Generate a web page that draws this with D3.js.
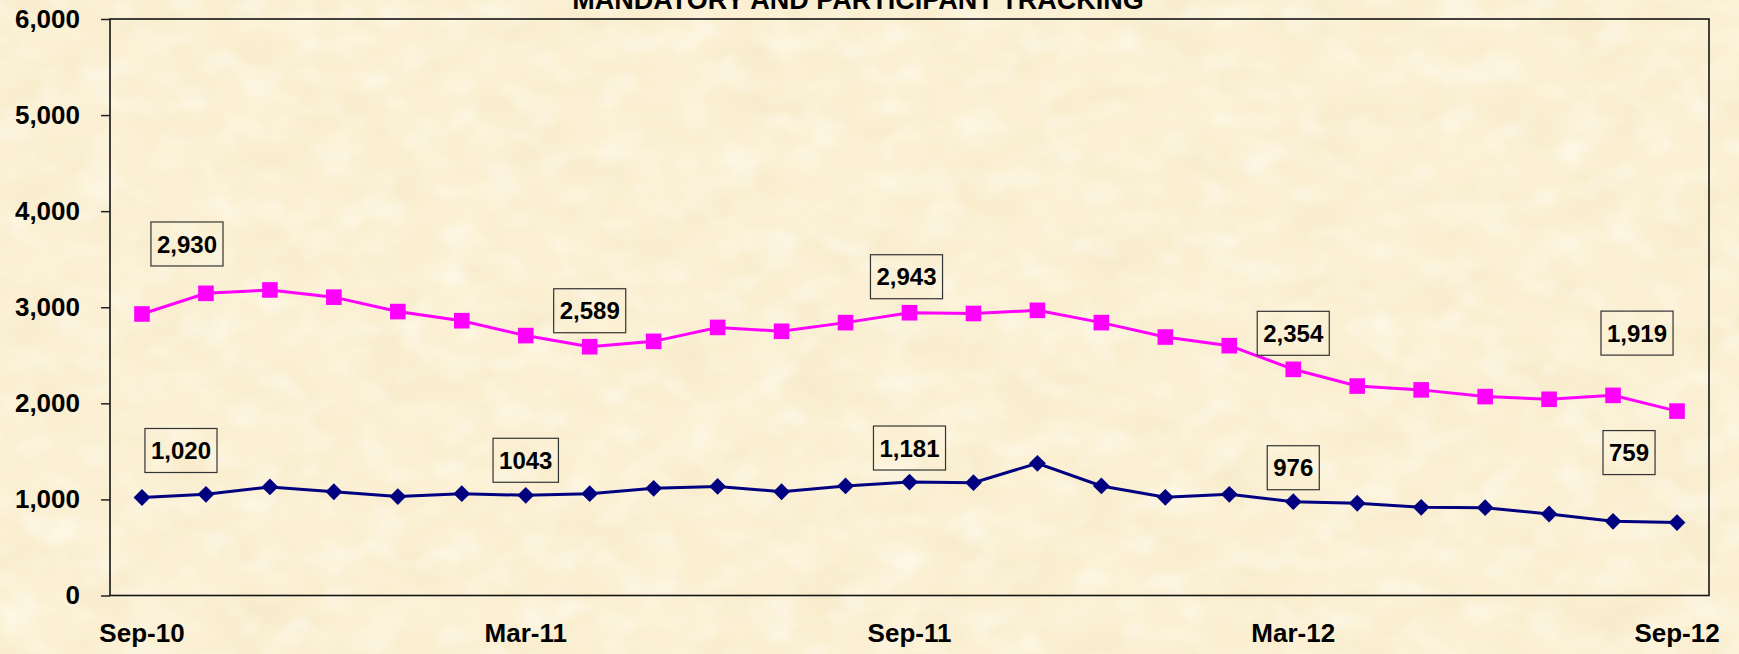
<!DOCTYPE html>
<html>
  <head>
    <meta charset="utf-8">
    <title>Mandatory and Participant Tracking</title>
    <script src="https://d3js.org/d3.v7.min.js"></script>
    <style>
      body { margin: 0; background: #faf0d5; }
      svg { display: block; }
      text { font-family: "Liberation Sans", Arial, sans-serif; font-weight: bold; fill: #000; }
    </style>
  </head>
  <body>
    <svg></svg>
    <script>
      // monthly categories, Sep-10 .. Sep-12
      var months = ["Sep-10", "Oct-10", "Nov-10", "Dec-10", "Jan-11", "Feb-11", "Mar-11",
        "Apr-11", "May-11", "Jun-11", "Jul-11", "Aug-11", "Sep-11", "Oct-11", "Nov-11",
        "Dec-11", "Jan-12", "Feb-12", "Mar-12", "Apr-12", "May-12", "Jun-12", "Jul-12",
        "Aug-12", "Sep-12"];
      var tickMonths = ["Sep-10", "Mar-11", "Sep-11", "Mar-12", "Sep-12"];
      var yTicks = [0, 1000, 2000, 3000, 4000, 5000, 6000];

      // pink series (upper) and navy series (lower)
      var participants = [2930, 3145, 3180, 3105, 2955, 2860, 2705, 2589, 2645, 2790, 2750, 2840,
        2943, 2935, 2968, 2840, 2690, 2600, 2354, 2180, 2140, 2070, 2042, 2083, 1919];
      var mandatory = [1020, 1053, 1130, 1080, 1030, 1060, 1043, 1060, 1115, 1135, 1080, 1140,
        1181, 1174, 1376, 1140, 1022, 1053, 976, 960, 918, 914, 848, 772, 759];

      // call-out labels: [month index, text]
      var participantLabels = [[0, "2,930"], [7, "2,589"], [12, "2,943"], [18, "2,354"], [24, "1,919"]];
      var mandatoryLabels = [[0, "1,020"], [6, "1043"], [12, "1,181"], [18, "976"], [24, "759"]];

      var title = "MANDATORY AND PARTICIPANT TRACKING";

      // box offsets from their point (layout only)
      var participantOffsets = [[45, -70], [0, -36], [-3, -36], [0, -36], [-40, -78]];
      var mandatoryOffsets = [[39, -47], [0, -35], [0, -34], [0, -34], [-48, -70]];

      var W = 1739, H = 654;
      var plot = { left: 110, right: 1709, top: 19, bottom: 595.5 };

      var svg = d3.select("svg").attr("width", W).attr("height", H);

      // parchment texture
      var defs = svg.append("defs");
      var f1 = defs.append("filter").attr("id", "blotch")
        .attr("x", 0).attr("y", 0).attr("width", "100%").attr("height", "100%");
      f1.append("feTurbulence").attr("type", "fractalNoise")
        .attr("baseFrequency", "0.014 0.022").attr("numOctaves", 3).attr("seed", 7);
      f1.append("feColorMatrix").attr("type", "matrix")
        .attr("values", "0 0 0 0 0.88  0 0 0 0 0.78  0 0 0 0 0.52  0.9 0 0 0 -0.38");
      var f2 = defs.append("filter").attr("id", "light")
        .attr("x", 0).attr("y", 0).attr("width", "100%").attr("height", "100%");
      f2.append("feTurbulence").attr("type", "fractalNoise")
        .attr("baseFrequency", "0.025 0.035").attr("numOctaves", 2).attr("seed", 21);
      f2.append("feColorMatrix").attr("type", "matrix")
        .attr("values", "0 0 0 0 1  0 0 0 0 1  0 0 0 0 0.96  1.1 0 0 0 -0.5");

      svg.append("rect").attr("width", W).attr("height", H).attr("fill", "#fbf0d3");
      svg.append("rect").attr("width", W).attr("height", H).attr("filter", "url(#blotch)");
      svg.append("rect").attr("width", W).attr("height", H).attr("filter", "url(#light)");

      var x = d3.scaleBand().domain(months).range([plot.left, plot.right]).padding(0);
      var y = d3.scaleLinear().domain([0, 6000]).range([plot.bottom, plot.top]);
      var cx = function(i) { return x(months[i]) + x.bandwidth() / 2; };

      // title, cut at the top edge like the source
      svg.append("text")
        .attr("x", 858).attr("y", 9)
        .attr("text-anchor", "middle")
        .style("font-size", "27px")
        .text(title);

      // y axis
      var yAxis = svg.append("g")
        .attr("transform", "translate(" + plot.left + ",0)")
        .call(d3.axisLeft(y).tickValues(yTicks).tickFormat(d3.format(",")).tickSize(9).tickPadding(21));
      yAxis.select(".domain").remove();
      yAxis.selectAll("line").attr("stroke", "#222").attr("stroke-width", 1.5);
      yAxis.selectAll("text").style("font-size", "26px").attr("font-family", null);

      // x axis labels
      var xAxis = svg.append("g")
        .attr("transform", "translate(0," + plot.bottom + ")")
        .call(d3.axisBottom(x).tickValues(tickMonths).tickSize(0).tickPadding(28));
      xAxis.select(".domain").remove();
      xAxis.selectAll("text").style("font-size", "26px").attr("font-family", null);

      // plot frame
      svg.append("rect")
        .attr("x", plot.left).attr("y", plot.top)
        .attr("width", plot.right - plot.left).attr("height", plot.bottom - plot.top)
        .attr("fill", "none").attr("stroke", "#151515").attr("stroke-width", 1.6);

      var line = d3.line().x(function(d, i) { return cx(i); }).y(function(d) { return y(d); });

      // pink series
      svg.append("path").datum(participants)
        .attr("d", line).attr("fill", "none").attr("stroke", "#ff00ff").attr("stroke-width", 3);
      svg.selectAll("rect.sq").data(participants).enter().append("rect")
        .attr("class", "sq")
        .attr("x", function(d, i) { return cx(i) - 7.8; })
        .attr("y", function(d) { return y(d) - 7.8; })
        .attr("width", 15.6).attr("height", 15.6)
        .attr("fill", "#ff00ff");

      // navy series
      svg.append("path").datum(mandatory)
        .attr("d", line).attr("fill", "none").attr("stroke", "#000080").attr("stroke-width", 3);
      svg.selectAll("path.dia").data(mandatory).enter().append("path")
        .attr("class", "dia")
        .attr("d", "M0,-8.4L8.4,0L0,8.4L-8.4,0Z")
        .attr("transform", function(d, i) { return "translate(" + cx(i) + "," + y(d) + ")"; })
        .attr("fill", "#000080");

      // call-out boxes
      function callouts(labels, offsets, values) {
        labels.forEach(function(l, k) {
          var px = cx(l[0]) + offsets[k][0];
          var py = y(values[l[0]]) + offsets[k][1];
          var g = svg.append("g").attr("transform", "translate(" + px + "," + py + ")");
          var box = g.append("rect");
          var t = g.append("text")
            .attr("text-anchor", "middle").attr("dy", "0.36em")
            .style("font-size", "24px").text(l[1]);
          var w = t.node().getComputedTextLength() + 12;
          box.attr("x", -w / 2).attr("y", -22).attr("width", w).attr("height", 44)
            .attr("fill", "none").attr("stroke", "#333").attr("stroke-width", 1.2);
        });
      }
      callouts(participantLabels, participantOffsets, participants);
      callouts(mandatoryLabels, mandatoryOffsets, mandatory);
    </script>
  </body>
</html>
